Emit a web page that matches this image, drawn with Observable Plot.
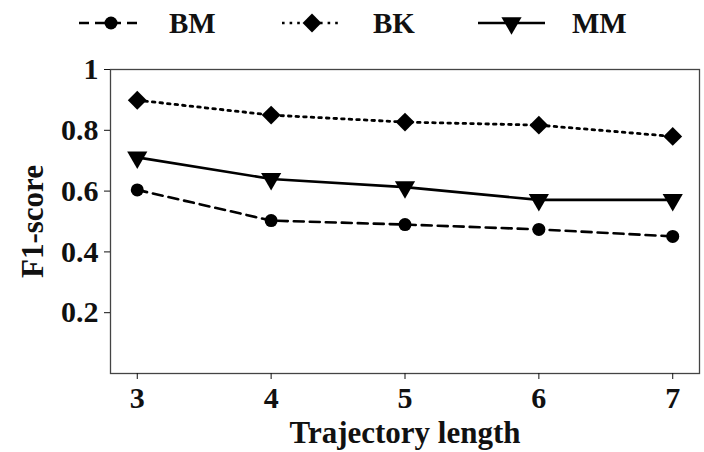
<!DOCTYPE html>
<html><head><meta charset="utf-8">
<script src="https://cdn.jsdelivr.net/npm/d3@7"></script>
<script src="https://cdn.jsdelivr.net/npm/@observablehq/plot@0.6"></script>
<style>
body{margin:0;background:#fff;font-family:"Liberation Serif","Times New Roman",serif;font-weight:bold;}
#legend{position:relative;width:704px;height:46px;}
#legend .txt{position:absolute;top:4px;font-size:29px;line-height:38px;color:#111;}
#legend svg{position:absolute;top:0;left:0;}
#chart svg g[aria-label="x-axis label"] text, #chart svg g[aria-label="y-axis label"] text{font-size:31px;}
#chart svg g[aria-label="x-axis tick label"] text, #chart svg g[aria-label="y-axis tick label"] text{font-size:30px;}
</style>
</head><body>
<div id="legend"></div>
<div id="chart"></div>
<script>
const lengths = [3, 4, 5, 6, 7];
const bm = [0.604, 0.503, 0.490, 0.474, 0.451];
const bk = [0.899, 0.850, 0.827, 0.817, 0.780];
const mm = [0.711, 0.640, 0.613, 0.571, 0.571];
const yTicks = [0.2, 0.4, 0.6, 0.8, 1];
const xTicks = [3, 4, 5, 6, 7];
const seriesNames = ["BM", "BK", "MM"];

const rows = (vals) => lengths.map((x, i) => ({x, y: vals[i]}));
const dBM = rows(bm), dBK = rows(bk), dMM = rows(mm);

const plot = Plot.plot({
  width: 704,
  height: 406,
  marginTop: 23,
  marginBottom: 79,
  marginLeft: 110,
  marginRight: 5,
  style: {fontFamily: "Liberation Serif, Times New Roman, serif", fontWeight: "bold", fontSize: "30px", color: "#111", background: "#fff"},
  x: {domain: [2.8, 7.2]},
  y: {domain: [0, 1]},
  marks: [
    Plot.frame({stroke: "#444", strokeWidth: 1.3}),
    Plot.axisX({ticks: xTicks, tickFormat: d => String(d), tickSize: 6, tickPadding: 7, label: "Trajectory length", labelAnchor: "center", labelArrow: "none", labelOffset: 69}),
    Plot.axisY({ticks: yTicks, tickFormat: d => d === 1 ? "1" : d.toFixed(1), tickSize: 6, tickPadding: 6, label: "F1-score", labelAnchor: "center", labelArrow: "none", labelOffset: 90}),
    Plot.line(dBM, {x: "x", y: "y", stroke: "#000", strokeWidth: 2.6, strokeDasharray: "10,6"}),
    Plot.line(dBK, {x: "x", y: "y", stroke: "#000", strokeWidth: 2.8, strokeDasharray: "2.6,5"}),
    Plot.line(dMM, {x: "x", y: "y", stroke: "#000", strokeWidth: 2.6}),
    Plot.dot(dBM, {x: "x", y: "y", r: 6.5, fill: "#000", stroke: "none", symbol: "circle"}),
    Plot.dot(dBK, {x: "x", y: "y", r: 8.5, fill: "#000", stroke: "none", symbol: "diamond2"}),
    Plot.dot(dMM, {x: "x", y: "y", r: 7.5, fill: "#000", stroke: "none", symbol: "triangle", rotate: 180})
  ]
});
document.getElementById("chart").append(plot);

// Legend
const legend = document.getElementById("legend");
const ns = "http://www.w3.org/2000/svg";
const lsvg = document.createElementNS(ns, "svg");
lsvg.setAttribute("width", 704); lsvg.setAttribute("height", 46);
const items = [
  {name: seriesNames[0], x0: 79, x1: 143, dash: "10,6", sym: "circle", r: 6.5, tx: 169},
  {name: seriesNames[1], x0: 282, x1: 342, dash: "2.6,5", sym: "diamond2", r: 8.5, tx: 373},
  {name: seriesNames[2], x0: 478, x1: 545, dash: null, sym: "triangle", r: 7.5, tx: 572}
];
const symMap = {circle: d3.symbolCircle, diamond2: d3.symbolDiamond2, triangle: d3.symbolTriangle};
for (const it of items) {
  const cx = (it.x0 + it.x1) / 2, cy = 23;
  const ln = document.createElementNS(ns, "line");
  ln.setAttribute("x1", it.x0); ln.setAttribute("x2", it.x1);
  ln.setAttribute("y1", cy); ln.setAttribute("y2", cy);
  ln.setAttribute("stroke", "#000"); ln.setAttribute("stroke-width", 2.6);
  if (it.dash) ln.setAttribute("stroke-dasharray", it.dash);
  lsvg.append(ln);
  const p = document.createElementNS(ns, "path");
  p.setAttribute("d", d3.symbol(symMap[it.sym], Math.PI * it.r * it.r)());
  p.setAttribute("transform", `translate(${cx},${cy})` + (it.sym === "triangle" ? " rotate(180)" : ""));
  p.setAttribute("fill", "#000");
  lsvg.append(p);
  const t = document.createElement("div");
  t.className = "txt"; t.style.left = it.tx + "px"; t.textContent = it.name;
  legend.append(t);
}
legend.prepend(lsvg);
</script>
</body></html>
